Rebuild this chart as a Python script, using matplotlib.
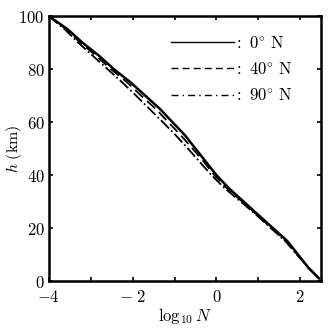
import numpy as np
import matplotlib.pyplot as plt

plt.rcParams['mathtext.fontset'] = 'cm'
plt.rcParams['font.family'] = 'serif'
plt.rcParams['font.serif'] = ['DejaVu Serif']

# altitude profiles: log10 N vs h (km)
h = [100, 95, 90, 85, 80, 75, 70, 65, 60, 55, 50, 45, 40, 35, 30, 25, 20, 15, 10, 5, 1]
logN_0 = [-4.0, -3.55, -3.2, -2.8, -2.45, -2.05, -1.7, -1.35, -1.05, -0.75, -0.5, -0.25, 0.0, 0.3, 0.65, 1.0, 1.35, 1.7, 1.95, 2.2, 2.45]
logN_40 = [-4.0, -3.58, -3.25, -2.87, -2.52, -2.13, -1.8, -1.45, -1.15, -0.85, -0.57, -0.3, -0.05, 0.25, 0.62, 0.97, 1.32, 1.67, 1.93, 2.2, 2.45]
logN_90 = [-4.0, -3.62, -3.3, -2.95, -2.6, -2.25, -1.92, -1.6, -1.28, -0.97, -0.68, -0.4, -0.12, 0.2, 0.58, 0.95, 1.3, 1.65, 1.92, 2.2, 2.45]

fig = plt.figure(figsize=(3.28, 3.28), dpi=100)
ax = fig.add_axes([0.149, 0.143, 0.83, 0.808])

l0, = ax.plot(logN_0, h, 'k-', lw=1.8)
l40, = ax.plot(logN_40, h, 'k--', lw=1.3, dashes=(6, 3))
l90, = ax.plot(logN_90, h, 'k-.', lw=1.3)

ax.set_xlim(-4, 2.5)
ax.set_ylim(0, 100)
ax.set_xticks([-4, -2, 0, 2])
ax.set_xticklabels([r'$-4$', r'$-\ 2$', r'$0$', r'$2$'])
ax.set_xticks([-3, -1, 1], minor=True)
ax.set_yticks([0, 20, 40, 60, 80, 100])
ax.set_yticklabels([r'$0$', r'$20$', r'$40$', r'$60$', r'$80$', r'$100$'])
ax.tick_params(direction='in', which='both', top=True, right=True, labelsize=12, length=3, width=1.2)
ax.tick_params(axis='x', pad=6)
ax.tick_params(axis='y', pad=3)
for s in ax.spines.values():
    s.set_linewidth(1.8)

ax.set_xlabel(r'$\log_{10} N$', fontsize=12, labelpad=0)
ax.set_ylabel(r'$h\ \mathrm{(km)}$', fontsize=11.5)
ax.yaxis.set_label_coords(-0.09, 0.5)

leg = ax.legend([l0, l40, l90],
          [r'$:\ 0^{\circ}\ \mathrm{N}$', r'$:\ 40^{\circ}\ \mathrm{N}$', r'$:\ 90^{\circ}\ \mathrm{N}$'],
          loc='upper right', frameon=False, fontsize=12, handlelength=3.8,
          handletextpad=0.0, labelspacing=0.55, bbox_to_anchor=(0.95, 0.985))
for ln in leg.get_lines():
    ln.set_linewidth(1.0)
leg.get_lines()[1].set_dashes((5, 3))
leg.get_lines()[2].set_dashes((5, 3, 1, 3))

fig.savefig('out.png', dpi=100)
